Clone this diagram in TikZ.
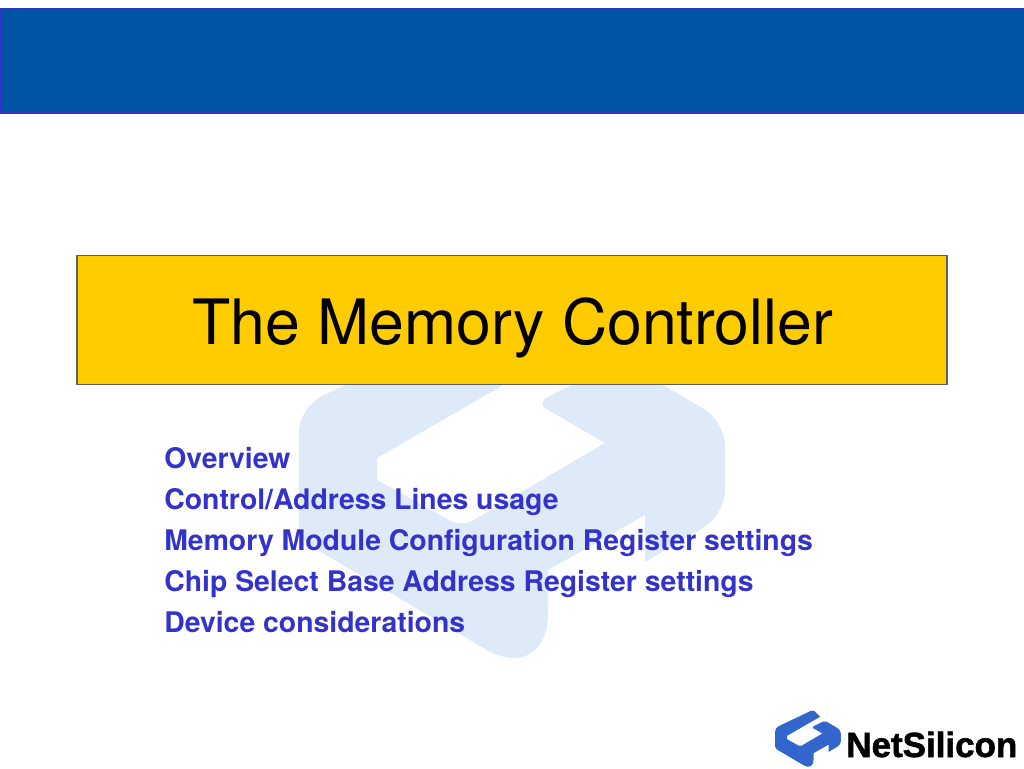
\documentclass[tikz,border=0pt]{standalone}
\usepackage{fontspec}
\setmainfont{TeX Gyre Heros}
\newfontfamily\brandfont[FakeBold=1.6]{Liberation Sans Bold}
\definecolor{bannerblue}{HTML}{0054A6}
\definecolor{bannerline}{HTML}{3333CC}
\definecolor{titlegold}{HTML}{FFCC00}
\definecolor{titleline}{HTML}{5F5F5F}
\definecolor{itemblue}{HTML}{3333CC}
\definecolor{markpale}{HTML}{DEEAF8}
\definecolor{logoblue}{HTML}{3366CC}
\tikzset{
  item/.style={anchor=base west,inner sep=0pt,text=itemblue,font=\fontsize{16.15pt}{18pt}\selectfont\bfseries}
}
% the logo outline, at pixel coordinates; the arguments are its corner radii
\newcommand{\markpath}[3]{
  [rounded corners=#2] (299,407) [rounded corners=#3] -- (299,539) [rounded corners=#1] -- (548,686) [sharp corners] -- (548,570)
  -- (645,515) -- (645,562) [rounded corners=#2] -- (725,515) -- (725,421) [rounded corners=#3] -- (620,360) -- (536,403) [sharp corners] -- (605,443)
  [rounded corners=#3] -- (462,527) [sharp corners] -- (377,480) -- (377,458) -- (590,335) [rounded corners=#3] -- (545,290) [rounded corners=#2] -- cycle
}
\begin{document}
\begin{tikzpicture}[x=0.02cm,y=-0.02cm]
  \useasboundingbox (0,0) rectangle (1024,768);
  \fill [markpale] \markpath{1.45cm}{0.5cm}{0.25cm};
  \node (banner) [draw=bannerline,fill=bannerblue,line width=1pt,minimum width=20.56cm,minimum height=2.08cm,inner sep=0pt] at (515,61) {};
  \node (box) [draw=titleline,fill=titlegold,line width=0.8pt,minimum width=17.4cm,minimum height=2.58cm,inner sep=0pt] at (512,320) {};
  \node (title) [anchor=base,inner sep=0pt,font=\fontsize{35.6pt}{40pt}\selectfont] at (512.5,344) {The Memory Controller};
  \node (over) [item] at (164,468) {Overview};
  \node (lines) [item] at (164,509) {Control/Address Lines usage};
  \node (module) [item] at (164,550) {Memory Module Configuration Register settings};
  \node (chip) [item] at (164,591) {Chip Select Base Address Register settings};
  \node (device) [item] at (164,632) {Device considerations};
  \begin{scope}[shift={(728.7,664.9)},x=0.0031cm,y=-0.0031cm]
    \fill [logoblue] \markpath{0.225cm}{0.078cm}{0.039cm};
  \end{scope}
  \node (brand) [anchor=base west,inner sep=0pt,font=\fontsize{19.9pt}{20pt}\selectfont\brandfont] at (846,757) {NetSilicon};
\end{tikzpicture}
\end{document}
